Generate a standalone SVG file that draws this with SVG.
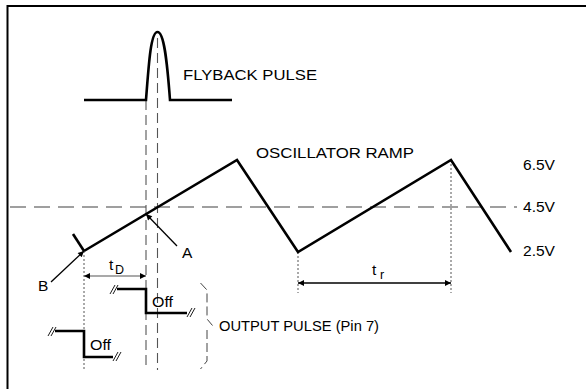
<svg xmlns="http://www.w3.org/2000/svg" width="586" height="389" viewBox="0 0 586 389">
<style>
text{font-family:"Liberation Sans",Arial,sans-serif;font-size:14px;fill:#000}
.one{font-size:15.5px}
.sub{font-size:12.5px}
.wave{fill:none;stroke:#000;stroke-width:2.6;stroke-linejoin:miter}
.thin{fill:none;stroke:#000;stroke-width:1.3}
.hdash{fill:none;stroke:#808080;stroke-width:1.3;stroke-dasharray:16 8}
.vdash{fill:none;stroke:#555;stroke-width:1.1;stroke-dasharray:10 5}
.dot{fill:none;stroke:#555;stroke-width:1;stroke-dasharray:2 2}
.brk{fill:none;stroke:#000;stroke-width:0.9}
</style>
<defs>
<marker id="ah" viewBox="0 0 10 10" refX="10" refY="5" markerWidth="9" markerHeight="6" markerUnits="userSpaceOnUse" orient="auto-start-reverse">
<path d="M0,0 L10,5 L0,10 z" fill="#000"/>
</marker>
</defs>
<g id="frame">
<path d="M7.5,389 V6 H586" fill="none" stroke="#000" stroke-width="2"/>
</g>
<g id="guides">
<line class="hdash" x1="10" y1="207" x2="517" y2="207"/>
<line class="vdash" x1="146" y1="100" x2="146" y2="370"/>
<line class="vdash" x1="157.5" y1="38" x2="157.5" y2="370"/>
<line class="dot" x1="84" y1="251" x2="84" y2="370"/>
<line class="dot" x1="298" y1="252" x2="298" y2="293"/>
<line class="dot" x1="451" y1="160" x2="451" y2="293"/>
</g>
<g id="flyback">
<path class="wave" d="M84,100 H146 C149,60 151,32 157.5,32 C164,32 167,60 170,100 H232"/>
<text x="183" y="79.5" textLength="134" lengthAdjust="spacingAndGlyphs">FLYBACK PULSE</text>
</g>
<g id="ramp">
<line class="wave" x1="73" y1="234" x2="84" y2="251"/>
<path class="wave" d="M84,251 L237,160 L298,252 L451,160 L511,252"/>
<text x="256" y="157.5" textLength="158" lengthAdjust="spacingAndGlyphs">OSCILLATOR RAMP</text>
<text x="523" y="170" textLength="32" lengthAdjust="spacingAndGlyphs">6.5V</text>
<text x="523" y="212" textLength="32" lengthAdjust="spacingAndGlyphs">4.5V</text>
<text x="523" y="256" textLength="32" lengthAdjust="spacingAndGlyphs">2.5V</text>
</g>
<g id="connectors">
<line class="thin" x1="177" y1="246" x2="146" y2="214" marker-end="url(#ah)"/>
<line class="thin" x1="51" y1="282" x2="84" y2="251" marker-end="url(#ah)"/>
<line x1="84" y1="276" x2="146" y2="276" stroke="#555" stroke-width="1.2" marker-start="url(#ah)" marker-end="url(#ah)"/>
<line x1="298" y1="283" x2="451" y2="283" stroke="#000" stroke-width="1.5" marker-start="url(#ah)" marker-end="url(#ah)"/>
</g>
<g id="labels">
<text class="one" x="182" y="258">A</text>
<text class="one" x="38" y="291">B</text>
<text class="one" x="109" y="270">t</text><text class="sub" x="115" y="274">D</text>
<text class="one" x="372" y="275">t</text><text class="sub" x="380" y="279">r</text>
</g>
<g id="output-upper">
<path class="wave" d="M117,289 H146 V313 H187"/>
<path class="brk" d="M110,294 L115,285 M113,294 L118,285"/>
<path class="brk" d="M187,317 L192,308 M190,317 L195,308"/>
<text x="152" y="307" textLength="21" lengthAdjust="spacingAndGlyphs">Off</text>
</g>
<g id="output-lower">
<path class="wave" d="M55,331 H84 V357 H113"/>
<path class="brk" d="M48,336 L53,327 M51,336 L56,327"/>
<path class="brk" d="M113,361 L118,352 M116,361 L121,352"/>
<text x="90" y="350" textLength="21" lengthAdjust="spacingAndGlyphs">Off</text>
</g>
<g id="output-brace">
<path d="M200.5,283 L207,290 V319 L212.5,325.5 M207,330 V361 L200.5,369" fill="none" stroke="#444" stroke-width="1" stroke-dasharray="9 4"/>
<text x="219" y="331" textLength="160" lengthAdjust="spacingAndGlyphs">OUTPUT PULSE (Pin 7)</text>
</g>
</svg>
